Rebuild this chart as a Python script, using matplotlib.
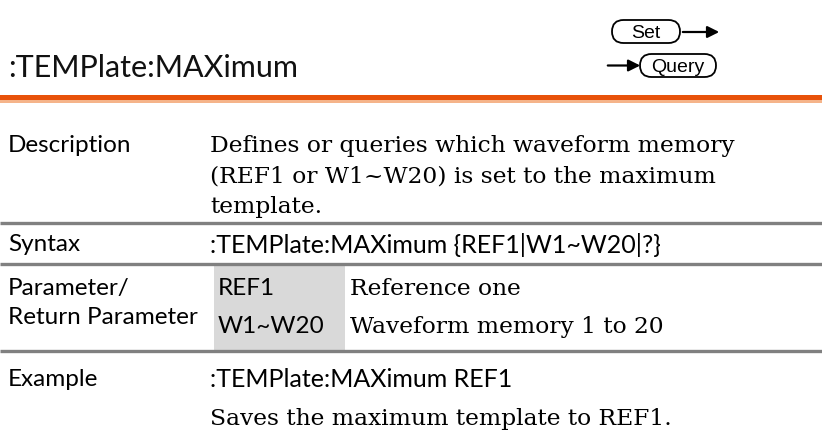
import matplotlib
matplotlib.use("Agg")
import matplotlib.pyplot as plt
from matplotlib.patches import FancyBboxPatch, Rectangle

W, H = 822, 439
title = ":TEMPlate:MAXimum"
labels = ["Description", "Syntax", "Parameter/", "Return Parameter", "Example"]
desc_lines = ["Defines or queries which waveform memory",
              "(REF1 or W1~W20) is set to the maximum",
              "template."]
syntax = ":TEMPlate:MAXimum {REF1|W1~W20|?}"
params = ["REF1", "W1~W20"]
param_desc = ["Reference one", "Waveform memory 1 to 20"]
example_cmd = ":TEMPlate:MAXimum REF1"
example_desc = "Saves the maximum template to REF1."

SANS = "Lato"
SERIF = "DejaVu Serif"

fig = plt.figure(figsize=(W/100, H/100), dpi=100)
ax = fig.add_axes([0, 0, 1, 1])
ax.set_xlim(0, W)
ax.set_ylim(H, 0)
ax.axis("off")
renderer = fig.canvas.get_renderer()

# fit serif body size so the first description line is ~525 px wide
t = ax.text(0, 0, desc_lines[0], family=SERIF, fontsize=16)
w = t.get_window_extent(renderer).width
t.remove()
fs_body = 16 * 525 / w

# title
ax.text(8, 68, title, fontsize=22, family=SANS, va="center", ha="left", color="#111")
# orange rule
ax.add_patch(Rectangle((0, 96), W, 5, color="#E8520A", lw=0))
ax.add_patch(Rectangle((0, 101), W, 3, color="#F5B48A", lw=0))

# Set / Query
ax.add_patch(FancyBboxPatch((612, 21), 68, 23, boxstyle="round,pad=0,rounding_size=11.5",
                            fc="white", ec="black", lw=1.3))
ax.text(646, 33, "Set", family="Liberation Sans", fontsize=14, ha="center", va="center")
ax.annotate("", xy=(722, 33), xytext=(680, 33),
            arrowprops=dict(arrowstyle="-|>,head_length=0.7,head_width=0.35", lw=1.6, color="black"))
ax.add_patch(FancyBboxPatch((640, 55), 76, 23, boxstyle="round,pad=0,rounding_size=11.5",
                            fc="white", ec="black", lw=1.3))
ax.text(678, 67, "Query", family="Liberation Sans", fontsize=14, ha="center", va="center")
ax.annotate("", xy=(643, 66.5), xytext=(605, 66.5),
            arrowprops=dict(arrowstyle="-|>,head_length=0.7,head_width=0.35", lw=1.6, color="black"))

# gray separators
for y in [224, 265, 352]:
    ax.plot([0, W], [y, y], color="#808080", lw=2.4, solid_capstyle="butt")

# param gray box
ax.add_patch(Rectangle((214, 266), 131, 85, color="#D9D9D9", lw=0))

LX, TX = 8, 210
fs_lab = 17.5
fs_code = 18
ax.text(LX, 146, labels[0], family=SANS, fontsize=fs_lab, va="center")
for i, line in enumerate(desc_lines):
    ax.text(TX, 146 + i * 30.5, line, family=SERIF, fontsize=fs_body, va="center")
ax.text(LX, 245, labels[1], family=SANS, fontsize=fs_lab, va="center")
ax.text(TX, 245, syntax, family=SANS, fontsize=fs_code, va="center")
ax.text(LX, 289, labels[2], family=SANS, fontsize=fs_lab, va="center")
ax.text(LX, 318, labels[3], family=SANS, fontsize=fs_lab, va="center")
for y, p, d in zip([289, 327], params, param_desc):
    ax.text(218, y, p, family=SANS, fontsize=fs_lab, va="center")
    ax.text(350, y, d, family=SERIF, fontsize=fs_body, va="center")
ax.text(LX, 380, labels[4], family=SANS, fontsize=fs_lab, va="center")
ax.text(TX, 380, example_cmd, family=SANS, fontsize=fs_code, va="center")
ax.text(TX, 419, example_desc, family=SERIF, fontsize=fs_body, va="center")

fig.savefig("out.png", dpi=100, facecolor="white")
